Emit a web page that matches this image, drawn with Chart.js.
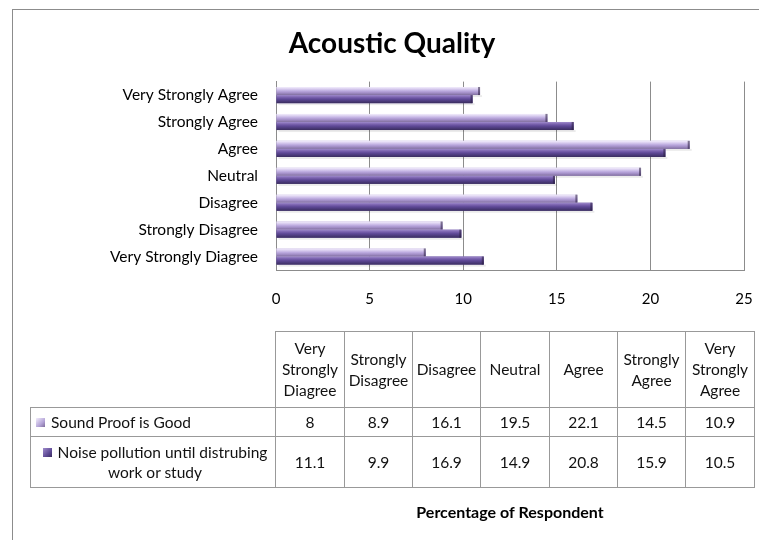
<!DOCTYPE html>
<html>
<head>
<meta charset="utf-8">
<script src="https://cdn.jsdelivr.net/npm/chart.js@4"></script>
<style>
  body { margin: 0; width: 759px; height: 540px; overflow: hidden; background: #fff; position: relative; font-family: Lato, sans-serif; }
  #frame { position: absolute; left: 12px; top: 9px; width: 800px; height: 600px; border: 1px solid #8c8c8c; }
  #acousticChart { position: absolute; left: 0; top: 0; }
  #dataTable { position: absolute; left: 30px; top: 331px; width: 724px; border-collapse: collapse; table-layout: fixed; font-size: 15.5px; color: #111; }
  #dataTable td { border: 1px solid #999; text-align: center; vertical-align: middle; padding: 0 1px; line-height: 21px; }
  #dataTable td.blank { border-top: none; border-left: none; }
  #dataTable td.rowName { text-align: left; padding-left: 5px; }
  #dataTable td.rowName.wrap { text-align: center; line-height: 20px; }
  .key { display: inline-block; width: 9px; height: 9px; margin-right: 6px; vertical-align: 1px; }
</style>
</head>
<body>
<div id="frame"></div>
<canvas id="acousticChart" width="759" height="540"></canvas>
<table id="dataTable"></table>
<script>
const categories = [
  'Very Strongly Diagree',
  'Strongly Disagree',
  'Disagree',
  'Neutral',
  'Agree',
  'Strongly Agree',
  'Very Strongly Agree',
];
const seriesNames = ['Sound Proof is Good', 'Noise pollution until distrubing work or study'];
const soundProof = [8, 8.9, 16.1, 19.5, 22.1, 14.5, 10.9];
const noisePollution = [11.1, 9.9, 16.9, 14.9, 20.8, 15.9, 10.5];
const xTicks = [0, 5, 10, 15, 20, 25];

// shading for the "3D" bar look, top to bottom
const shades = [
  ['#f3eefc', '#d9cdef', '#bba9de', '#a08cc4', '#7f6e9c'],
  ['#a08ccc', '#7c64b0', '#5f4997', '#4c3b7c', '#3a2d5e'],
];
const keyColors = ['#b5a5d8', '#5f4b96'];

Chart.defaults.font.family = 'Lato';

const barShine = {
  id: 'barShine',
  beforeDatasetsDraw(chart) {
    const ctx = chart.ctx;
    ctx.save();
    chart.getSortedVisibleDatasetMetas().forEach(meta => {
      meta.data.forEach(bar => {
        const {x, y, base, height} = bar.getProps(['x', 'y', 'base', 'height'], true);
        ctx.fillStyle = 'rgba(0,0,0,0.08)';
        ctx.fillRect(base + 2, y + height / 2, x - base, 2);
      });
    });
    ctx.restore();
  },
  afterDatasetsDraw(chart) {
    const ctx = chart.ctx;
    ctx.save();
    chart.getSortedVisibleDatasetMetas().forEach(meta => {
      const stops = shades[meta.index];
      meta.data.forEach(bar => {
        const {x, y, base, height} = bar.getProps(['x', 'y', 'base', 'height'], true);
        const top = y - height / 2;
        const g = ctx.createLinearGradient(0, top, 0, top + height);
        stops.forEach((c, k) => g.addColorStop(k / (stops.length - 1), c));
        ctx.fillStyle = g;
        ctx.fillRect(base, top, x - base, height);
        ctx.fillStyle = 'rgba(40,30,60,0.55)';
        ctx.fillRect(x - 2, top, 2, height);
      });
    });
    ctx.restore();
  }
};

new Chart(document.getElementById('acousticChart'), {
  type: 'bar',
  data: {
    labels: categories,
    datasets: [
      {
        label: seriesNames[0],
        data: soundProof,
        backgroundColor: keyColors[0],
        categoryPercentage: 0.6,
        barPercentage: 1,
      },
      {
        label: seriesNames[1],
        data: noisePollution,
        backgroundColor: keyColors[1],
        categoryPercentage: 0.6,
        barPercentage: 1,
      },
    ]
  },
  options: {
    indexAxis: 'y',
    responsive: false,
    animation: false,
    layout: { padding: { left: 40, right: 15, top: 0, bottom: 0 } },
    plugins: {
      legend: { display: false },
      tooltip: { enabled: false },
      title: {
        display: true,
        text: 'Acoustic Quality',
        color: '#000',
        font: { size: 28, weight: 'bold' },
        padding: { top: 27, bottom: 21 },
      },
    },
    scales: {
      x: {
        min: xTicks[0],
        max: xTicks[xTicks.length - 1],
        ticks: {
          stepSize: xTicks[1] - xTicks[0],
          padding: 20,
          color: '#000',
          font: { size: 15 },
        },
        grid: { color: '#8c8c8c', drawTicks: false },
        border: { color: '#8c8c8c' },
        title: {
          display: true,
          text: 'Percentage of Respondent',
          color: '#000',
          font: { size: 16, weight: 'bold' },
          padding: { top: 0, bottom: 18 },
        },
        afterFit(scale) {
          scale.height = 270;
          scale.paddingLeft = 0;
          scale.paddingRight = 0;
        },
      },
      y: {
        reverse: true,
        ticks: { padding: 18, color: '#000', font: { size: 15.5 } },
        grid: { display: false, drawTicks: false },
        border: { color: '#8c8c8c' },
        afterFit(scale) { scale.width = 236; },
      }
    }
  },
  plugins: [barShine]
});

// data table under the chart
const table = document.getElementById('dataTable');
const widths = [245, 69, 68, 68, 69, 68, 68, 69];
const colgroup = document.createElement('colgroup');
widths.forEach(w => {
  const col = document.createElement('col');
  col.style.width = w + 'px';
  colgroup.appendChild(col);
});
table.appendChild(colgroup);

const head = table.insertRow();
head.style.height = '76px';
head.insertCell().className = 'blank';
categories.forEach(c => { head.insertCell().textContent = c; });

[soundProof, noisePollution].forEach((values, i) => {
  const row = table.insertRow();
  row.style.height = i === 0 ? '29px' : '51px';
  const name = row.insertCell();
  name.className = i === 0 ? 'rowName' : 'rowName wrap';
  const key = document.createElement('span');
  key.className = 'key';
  key.style.background = 'linear-gradient(135deg,' + shades[i][0] + ',' + keyColors[i] + ' 60%,' + shades[i][4] + ')';
  name.appendChild(key);
  name.appendChild(document.createTextNode(seriesNames[i]));
  values.forEach(v => { row.insertCell().textContent = v; });
});
</script>
</body>
</html>
